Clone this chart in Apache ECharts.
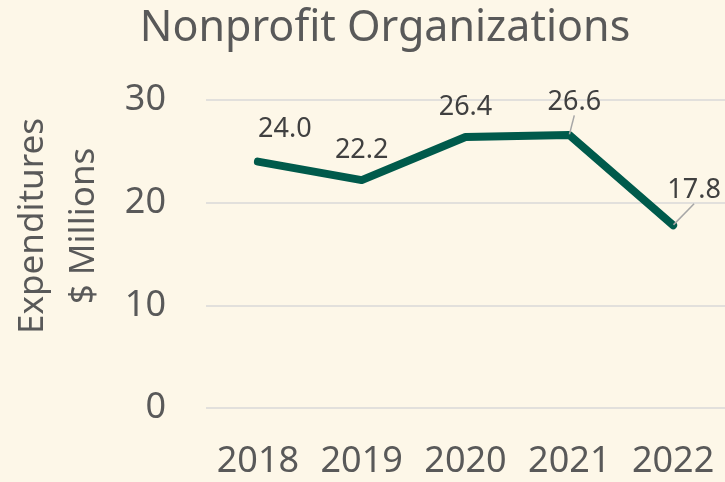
<!DOCTYPE html>
<html><head><meta charset="utf-8">
<script src="https://cdn.jsdelivr.net/npm/echarts@6/dist/echarts.min.js"></script>
<style>html,body{margin:0;padding:0;background:#FDF7E8;}#c{width:725px;height:482px;}</style>
</head><body><div id="c"></div>
<script>
const years = ['2018','2019','2020','2021','2022'];
const expenditures = [24.0, 22.2, 26.4, 26.6, 17.8];
const yTicks = {min: 0, max: 30, interval: 10};
const titleText = 'Nonprofit Organizations';
const axisNameLines = ['Expenditures', '$ Millions'];

// label placement offsets [dx, dy] relative to default top position
const labelShift = [[27, -2], [0, 0], [0, 0], [5, -3], [21, -5]];
const labelLineOn = [false, false, false, true, true];

const chart = echarts.init(document.getElementById('c'), null, {renderer: 'canvas'});
const font = 'Noto Sans';
chart.setOption({
  backgroundColor: '#FDF7E8',
  animation: false,
  title: {
    text: titleText, left: 380, top: 2, textAlign: 'center',
    textStyle: {fontFamily: font, fontSize: 43, fontWeight: 'normal', color: '#595959'}
  },
  graphic: [
    {type: 'text', x: 33, y: 226, rotation: Math.PI / 2,
      style: {text: axisNameLines[0], fontFamily: font, fontSize: 35, fill: '#595959', align: 'center', verticalAlign: 'middle'}},
    {type: 'text', x: 84, y: 226, rotation: Math.PI / 2,
      style: {text: axisNameLines[1], fontFamily: font, fontSize: 35, fill: '#595959', align: 'center', verticalAlign: 'middle'}}
  ],
  grid: {left: 206, right: 0, top: 100, bottom: 74, containLabel: false},
  xAxis: {
    type: 'category', data: years, boundaryGap: true,
    axisLine: {show: false}, axisTick: {show: false},
    axisLabel: {fontFamily: font, fontSize: 36, color: '#595959', margin: 36, interval: 0}
  },
  yAxis: {
    type: 'value', min: yTicks.min, max: yTicks.max, interval: yTicks.interval,
    axisLine: {show: false}, axisTick: {show: false},
    axisLabel: {fontFamily: font, fontSize: 36, color: '#595959', margin: 40},
    splitLine: {lineStyle: {color: '#D9D9D9', width: 1.5}}
  },
  series: [{
    type: 'line', data: expenditures.map((v, i) => ({
      value: v,
      labelLine: {show: labelLineOn[i]}
    })),
    symbol: 'circle', symbolSize: 1, showSymbol: true,
    itemStyle: {color: '#005A4B'},
    lineStyle: {color: '#005A4B', width: 8, cap: 'round', join: 'round'},
    label: {
      show: true, position: 'top', distance: 16,
      formatter: p => p.value.toFixed(1),
      fontFamily: font, fontSize: 27, color: '#404040'
    },
    labelLine: {lineStyle: {color: '#A6A6A6', width: 1.5}},
    labelLayout: p => ({dx: labelShift[p.dataIndex][0], dy: labelShift[p.dataIndex][1]})
  }]
});
</script></body></html>
